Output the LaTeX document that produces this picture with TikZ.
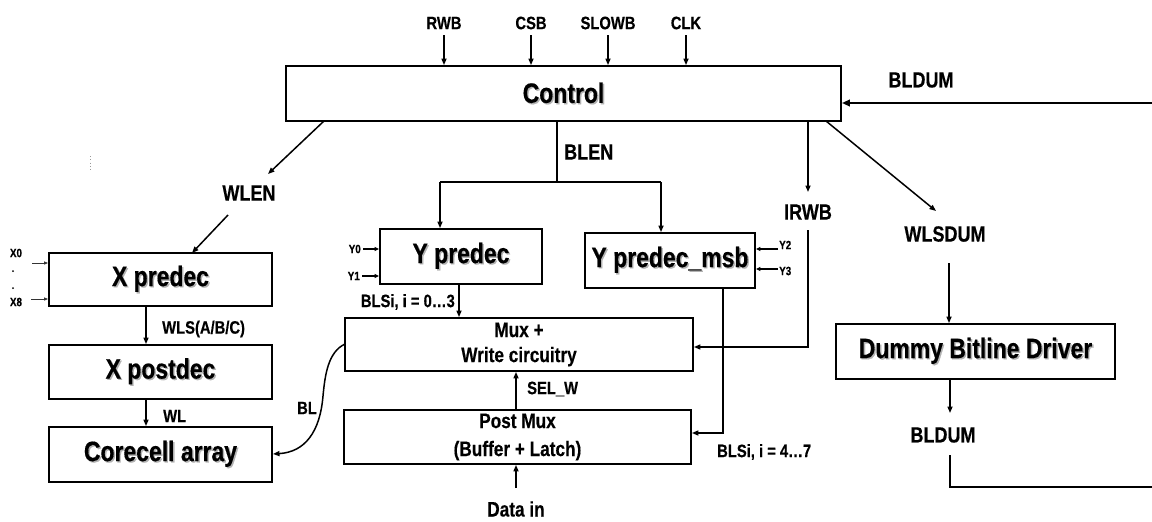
\documentclass[tikz,border=0pt]{standalone}
\usepackage{fontspec}
\setmainfont{Liberation Sans}[FakeStretch=0.82,BoldFeatures={FakeBold=0.4}]
\usetikzlibrary{arrows.meta}
\newcommand\shd[1]{\makebox[0pt][l]{\kern1.4pt\raisebox{-1.4pt}{\textcolor{black!30}{#1}}}#1}
\begin{document}
\begin{tikzpicture}[x=1pt,y=-1pt,
  blk/.style={draw,line width=1.8pt,inner sep=0pt,font=\fontsize{28}{32}\selectfont\bfseries},
  mid/.style={draw,line width=1.8pt,inner sep=0pt,align=center,font=\fontsize{21}{25}\selectfont\bfseries},
  sig/.style={inner sep=0pt,font=\fontsize{22}{24}\selectfont\bfseries},
  sml/.style={inner sep=0pt,font=\fontsize{18}{20}\selectfont\bfseries},
  tiny/.style={inner sep=0pt,font=\fontsize{12}{13}\selectfont\bfseries},
  arr/.style={line width=1.5pt,-{Triangle[length=6.5pt,width=5pt]}},
  thinarr/.style={line width=0.8pt,black!80,-{Triangle[length=4pt,width=3pt]}},
  wire/.style={line width=1.5pt}]
\fill[white] (0,0) rectangle (1152,522);
\useasboundingbox (0,0) rectangle (1152,522);

% boxes
\node[blk,minimum width=555,minimum height=55] (ctrl) at (563.5,93.5) {\shd{Control}};
\node[blk,minimum width=223,minimum height=53] (xpre) at (160.5,279.5) {\shd{X predec}};
\node[blk,minimum width=223,minimum height=54] (xpost) at (160.5,372) {\shd{X postdec}};
\node[blk,minimum width=223,minimum height=55] (core) at (160.5,454.5) {\shd{Corecell array}};
\node[blk,minimum width=162,minimum height=55] (ypre) at (461,256.5) {\shd{Y predec}};
\node[blk,minimum width=170,minimum height=55] (ymsb) at (670,260.5) {\shd{Y predec\_msb}};
\node[mid,minimum width=348,minimum height=53] (mux) at (519,344.5) {Mux +\\Write circuitry};
\node[mid,minimum width=347,minimum height=54,font=\fontsize{21}{28}\selectfont\bfseries] (pmux) at (517.5,437) {Post Mux\\(Buffer + Latch)};
\node[blk,minimum width=279,minimum height=55] (dum) at (975.5,351.5) {\shd{Dummy Bitline Driver}};

% top inputs
\foreach \nm/\xx in {RWB/444,CSB/531,SLOWB/608,CLK/686}{
  \node[sml] (l\nm) at (\xx,23) {\nm};
  \coordinate (s\nm) at (\xx,35);
  \draw[arr] (s\nm) -- (s\nm |- ctrl.north);
}

% BLDUM feedback into control
\coordinate (bdR) at (1152,103);
\node[sig] (lbd1) at (921,80) {BLDUM};
\draw[line width=2.6pt,-{Triangle[length=8pt,width=6.5pt]}] (bdR) -- (bdR -| ctrl.east);

% WLEN
\coordinate (w1) at (324,121);
\coordinate (w2) at (268,174);
\node[sig] (lwlen) at (249,193) {WLEN};
\coordinate (w3) at (228,215);
\coordinate (w4) at (192,253);
\draw[arr] (w1) -- (w2);
\draw[arr] (w3) -- (w4);

% faint dots
\draw[black!40,line width=0.6pt,dash pattern=on 0.8pt off 2.5pt] (90,156) -- (90,172);

% BLEN
\coordinate (b1) at (557,121);
\coordinate (b2) at (557,182);
\coordinate (bl) at (440,182);
\coordinate (br) at (661,182);
\node[sig,anchor=west] (lblen) at (564,152) {BLEN};
\draw[wire] (b1) -- (b2);
\draw[wire] (bl) -- (br);
\draw[arr] (bl) -- (bl |- ypre.north);
\draw[arr] (br) -- (br |- ymsb.north);

% IRWB
\coordinate (i1) at (808,121);
\coordinate (i2) at (808,192);
\node[sig] (lirwb) at (808,212) {IRWB};
\coordinate (i3) at (808,230);
\coordinate (i4) at (808,347);
\draw[arr] (i1) -- (i2);
\draw[arr] (i3) -- (i4) -- (i4 -| mux.east);

% WLSDUM
\coordinate (d1) at (826,121);
\coordinate (d2) at (936,211);
\node[sig] (lwlsd) at (945,234) {WLSDUM};
\coordinate (d3) at (949,263);
\draw[arr] (d1) -- (d2);
\draw[arr] (d3) -- (d3 |- dum.north);

% Dummy -> BLDUM -> back
\coordinate (e1) at (950,379);
\coordinate (e2) at (950,413);
\node[sig] (lbd2) at (943,435) {BLDUM};
\coordinate (e3) at (950,455);
\coordinate (e4) at (950,487);
\coordinate (e5) at (1152,487);
\draw[arr] (e1) -- (e2);
\draw[wire] (e3) -- (e4) -- (e5);

% X inputs
\node[tiny] (lx0) at (16,253) {X0};
\node[tiny] (lx8) at (16,302) {X8};
\fill (13,271) circle (1pt) (13,288) circle (1pt);
\coordinate (x0s) at (32,263);
\coordinate (x8s) at (31,299);
\draw[thinarr] (x0s) -- (x0s -| xpre.west);
\draw[thinarr] (x8s) -- (x8s -| xpre.west);

% X chain
\coordinate (xa) at (146,306);
\coordinate (xb) at (146,399);
\draw[arr] (xa) -- (xa |- xpost.north);
\node[sml,anchor=west] (lwls) at (162,329) {WLS(A/B/C)};
\draw[arr] (xb) -- (xb |- core.north);
\node[sml,anchor=west] (lwl) at (163,416) {WL};

% BL curve
\coordinate (c0) at (345,344);
\coordinate (c1) at (323,396);
\coordinate (c2) at (273,454);
\draw[line width=1.5pt,-{Triangle[length=6.5pt,width=5pt]}] (c0) .. controls (328,352) and (325,375) .. (c1) .. controls (320,432) and (305,452) .. (c2);
\node[sml] (lbl) at (307,408) {BL};

% Y inputs
\node[tiny,anchor=east] (ly0) at (361,249) {Y0};
\node[tiny,anchor=east] (ly1) at (360,276) {Y1};
\coordinate (y0s) at (363,249);
\coordinate (y1s) at (362,276);
\draw[arr,line width=1.2pt,-{Triangle[length=4.5pt,width=4pt]}] (y0s) -- (y0s -| ypre.west);
\draw[arr,line width=1.2pt,-{Triangle[length=4.5pt,width=4pt]}] (y1s) -- (y1s -| ypre.west);
\node[tiny,anchor=west] (ly2) at (779,245) {Y2};
\node[tiny,anchor=west] (ly3) at (779,271) {Y3};
\coordinate (y2s) at (778,249);
\coordinate (y3s) at (778,269);
\draw[arr,line width=1.2pt,-{Triangle[length=4.5pt,width=4pt]}] (y2s) -- (y2s -| ymsb.east);
\draw[arr,line width=1.2pt,-{Triangle[length=4.5pt,width=4pt]}] (y3s) -- (y3s -| ymsb.east);

% Y predec -> Mux
\coordinate (p1) at (459,284);
\draw[arr] (p1) -- (p1 |- mux.north);
\node[sml,anchor=east] (lbls1) at (455,302) {BLSi, i = 0…3};

% Y msb -> Post mux
\coordinate (m1) at (723,288);
\coordinate (m2) at (723,433);
\draw[arr] (m1) -- (m2) -- (m2 -| pmux.east);
\node[sml,anchor=west] (lbls2) at (717,452) {BLSi, i = 4…7};

% SEL_W
\coordinate (s1) at (516,410);
\draw[arr] (s1) -- (s1 |- mux.south);
\node[sml,anchor=west] (lsel) at (527,389) {SEL\_W};

% Data in
\coordinate (din) at (516,488);
\draw[arr] (din) -- (din |- pmux.south);
\node[sig,font=\fontsize{21}{24}\selectfont\bfseries] (ldin) at (516,509) {Data in};
\end{tikzpicture}
\end{document}
